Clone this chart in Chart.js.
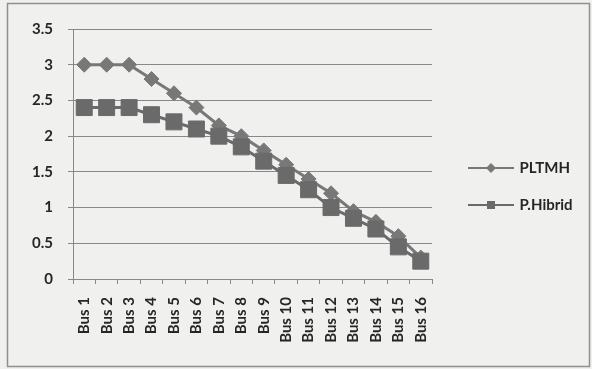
<!DOCTYPE html>
<html>
<head>
<meta charset="utf-8">
<script src="https://cdn.jsdelivr.net/npm/chart.js@4/dist/chart.umd.min.js"></script>
<style>
  html, body { margin: 0; padding: 0; background: #f0f0ef; }
  canvas { display: block; }
</style>
</head>
<body>
<canvas id="chart" width="592" height="369"></canvas>
<script>
// Bus voltage profile, two generation scenarios
const categories = ['Bus 1', 'Bus 2', 'Bus 3', 'Bus 4', 'Bus 5', 'Bus 6', 'Bus 7', 'Bus 8',
                    'Bus 9', 'Bus 10', 'Bus 11', 'Bus 12', 'Bus 13', 'Bus 14', 'Bus 15', 'Bus 16'];
const pltmh  = [3.0, 3.0, 3.0, 2.8, 2.6, 2.4, 2.15, 2.0, 1.8, 1.6, 1.4, 1.2, 0.95, 0.8, 0.6, 0.3];
const hibrid = [2.4, 2.4, 2.4, 2.3, 2.2, 2.1, 2.0, 1.85, 1.65, 1.45, 1.25, 1.0, 0.85, 0.7, 0.45, 0.25];
const yTickLabels = ['0', '0.5', '1', '1.5', '2', '2.5', '3', '3.5'];
const yMin = 0, yMax = 3.5, yStep = 0.5;

const FONT = { family: 'Lato, "Liberation Sans", sans-serif', size: 15, weight: 'bold' };
const TEXT = '#262626';
const GRID = '#888888';
const C_PLTMH = '#787878';
const C_HIBRID = '#6a6a6a';

// legend swatch: short line with the series marker in its middle
function swatch(shape, color) {
  const c = document.createElement('canvas');
  c.width = 62; c.height = 14;
  const g = c.getContext('2d');
  g.strokeStyle = color; g.lineWidth = 2;
  g.beginPath(); g.moveTo(16, 7); g.lineTo(62, 7); g.stroke();
  g.fillStyle = color;
  if (shape === 'diamond') {
    g.beginPath();
    g.moveTo(39, 2); g.lineTo(44, 7); g.lineTo(39, 12); g.lineTo(34, 7);
    g.closePath(); g.fill();
  } else {
    g.fillRect(35, 3, 8, 8);
  }
  return c;
}
const swatches = [swatch('diamond', C_PLTMH), swatch('square', C_HIBRID)];

// plain frame around the whole chart
const frame = {
  id: 'frame',
  beforeDraw(chart) {
    const ctx = chart.ctx;
    ctx.save();
    ctx.fillStyle = '#f0f0ef';
    ctx.fillRect(0, 0, chart.width, chart.height);
    ctx.strokeStyle = '#8f8f8f';
    ctx.lineWidth = 1.5;
    ctx.strokeRect(7.5, 3.5, 582, 363);
    ctx.restore();
  }
};

new Chart(document.getElementById('chart'), {
  type: 'line',
  data: {
    labels: categories,
    datasets: [
      {
        label: 'PLTMH',
        data: pltmh,
        order: 1,
        borderColor: C_PLTMH,
        backgroundColor: C_PLTMH,
        borderWidth: 3,
        pointStyle: 'rectRot',
        pointRadius: 7.5,
        pointBorderWidth: 1,
        tension: 0
      },
      {
        label: 'P.Hibrid',
        data: hibrid,
        order: 0,
        borderColor: C_HIBRID,
        backgroundColor: C_HIBRID,
        borderWidth: 3,
        pointStyle: 'rect',
        pointRadius: 11.3,
        pointBorderWidth: 1,
        tension: 0
      }
    ]
  },
  options: {
    responsive: false,
    animation: false,
    devicePixelRatio: 1,
    layout: { padding: { top: 29, bottom: 25, left: 0, right: 16 } },
    plugins: {
      tooltip: { enabled: false },
      legend: {
        position: 'right',
        align: 'center',
        labels: {
          usePointStyle: true,
          pointStyleWidth: 58,
          padding: 22,
          color: TEXT,
          font: FONT,
          sort: (a, b) => a.datasetIndex - b.datasetIndex,
          generateLabels(chart) {
            const items = Chart.defaults.plugins.legend.labels.generateLabels(chart);
            items.forEach(it => { it.pointStyle = swatches[it.datasetIndex]; });
            return items;
          }
        }
      }
    },
    scales: {
      x: {
        offset: true,
        grid: { offset: true, drawOnChartArea: false, tickLength: 5, color: GRID },
        border: { color: GRID, width: 1 },
        ticks: { minRotation: 90, maxRotation: 90, autoSkip: false, padding: 13, color: TEXT, font: FONT },
        afterFit(scale) { scale.height = 65; }
      },
      y: {
        min: yMin,
        max: yMax,
        grid: { color: GRID, lineWidth: 1, tickLength: 5 },
        border: { color: GRID, width: 1 },
        ticks: {
          stepSize: yStep, padding: 15, color: TEXT, font: FONT,
          callback: (v, i) => yTickLabels[i]
        },
        afterFit(scale) { scale.width = 73; }
      }
    }
  },
  plugins: [frame]
});
</script>
</body>
</html>
